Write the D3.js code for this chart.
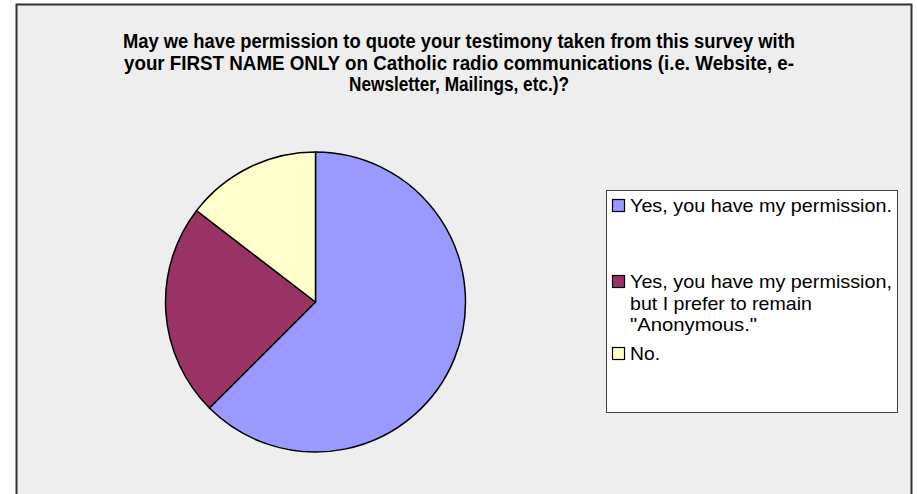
<!DOCTYPE html>
<html>
<head>
<meta charset="utf-8">
<script src="https://cdn.jsdelivr.net/npm/d3@7/dist/d3.min.js"></script>
<style>
  html, body { margin: 0; padding: 0; background: #ffffff; }
  svg { display: block; }
</style>
</head>
<body>
<svg id="chart" width="917" height="494"></svg>
<script>
// ---- data ----
const categories = [
  "Yes, you have my permission.",
  "Yes, you have my permission, but I prefer to remain \"Anonymous.\"",
  "No."
];
const values = [30, 11, 7];
const colors = ["#9999FF", "#993366", "#FFFFCC"];
const legendLines = [
  ["Yes, you have my permission."],
  ["Yes, you have my permission,", "but I prefer to remain", "\"Anonymous.\""],
  ["No."]
];
const titleLines = [
  "May we have permission to quote your testimony taken from this survey with",
  "your FIRST NAME ONLY on Catholic radio communications (i.e. Website, e-",
  "Newsletter, Mailings, etc.)?"
];

// ---- drawing ----
const svg = d3.select("#chart");
const font = "'Liberation Sans', Arial, sans-serif";

// chart area
svg.append("rect")
  .attr("x", 16.5).attr("y", 4.5)
  .attr("width", 895).attr("height", 520)
  .attr("fill", "#EEEEEE")
  .attr("stroke", "#333333")
  .attr("stroke-width", 2);

// title (condensed to the widths seen in the reference)
const titleWidths = [672, 670, 220];
const title = svg.append("g");
titleLines.forEach((t, i) => {
  title.append("text")
    .attr("x", 459).attr("y", 48 + i * 21.5)
    .attr("text-anchor", "middle")
    .attr("font-family", font)
    .attr("font-size", 19.5)
    .attr("font-weight", "bold")
    .attr("textLength", titleWidths[i])
    .attr("lengthAdjust", "spacingAndGlyphs")
    .attr("fill", "#000")
    .text(t);
});

// pie
const data = categories.map((c, i) => ({ name: c, value: values[i], color: colors[i] }));
const pie = d3.pie().sort(null).value(d => d.value);
const arc = d3.arc().innerRadius(0).outerRadius(150);
const pieG = svg.append("g").attr("transform", "translate(315.5,302)");
pieG.selectAll("path")
  .data(pie(data))
  .join("path")
  .attr("d", arc)
  .attr("fill", d => d.data.color)
  .attr("stroke", "#000")
  .attr("stroke-width", 1.5)
  .attr("stroke-linejoin", "round");

// legend
const lg = svg.append("g");
lg.append("rect")
  .attr("x", 606.5).attr("y", 190.5)
  .attr("width", 291).attr("height", 222)
  .attr("fill", "#FFFFFF")
  .attr("stroke", "#444444")
  .attr("stroke-width", 1);

const itemBaselines = [212, 288, 360];
const lineH = 21.5;
const lineWidths = [[262], [262, 182, 127], [30]];
data.forEach((d, i) => {
  const b = itemBaselines[i];
  lg.append("rect")
    .attr("x", 612.5).attr("y", b - 12.5)
    .attr("width", 12).attr("height", 12)
    .attr("fill", d.color)
    .attr("stroke", "#000")
    .attr("stroke-width", 1.2);
  legendLines[i].forEach((ln, j) => {
    lg.append("text")
      .attr("x", 630).attr("y", b + j * lineH)
      .attr("font-family", font)
      .attr("font-size", 19)
      .attr("textLength", lineWidths[i][j])
      .attr("lengthAdjust", "spacingAndGlyphs")
      .attr("fill", "#000")
      .text(ln);
  });
});
</script>
</body>
</html>
